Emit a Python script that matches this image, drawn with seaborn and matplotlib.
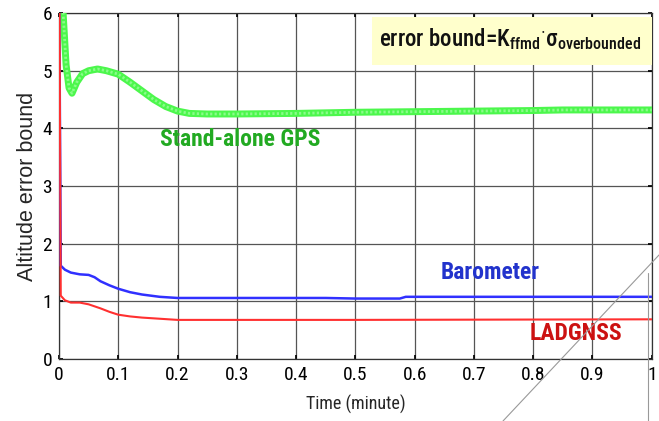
import matplotlib
matplotlib.use("Agg")
import matplotlib.pyplot as plt
import seaborn as sns
import pandas as pd
from matplotlib.lines import Line2D
from matplotlib.patches import Rectangle
from matplotlib import font_manager as fm

# ---- data ----
gps_t = [0.0, 0.007, 0.012, 0.017, 0.022, 0.03, 0.04, 0.05, 0.065, 0.08, 0.1, 0.12,
         0.14, 0.16, 0.18, 0.2, 0.22, 0.25, 0.3, 0.4, 0.45, 0.5, 0.6, 0.7, 0.8, 0.85, 1.0]
gps_v = [7.0, 6.0, 5.1, 4.7, 4.61, 4.8, 4.95, 5.0, 5.03, 5.0, 4.94, 4.8,
         4.65, 4.5, 4.38, 4.3, 4.26, 4.25, 4.25, 4.26, 4.27, 4.28, 4.29, 4.3, 4.31, 4.32, 4.32]

baro_t = [0.0, 0.003, 0.01, 0.02, 0.035, 0.05, 0.06, 0.07, 0.085, 0.1, 0.12, 0.14,
          0.17, 0.2, 0.3, 0.45, 0.5, 0.575, 0.585, 0.7, 1.0]
baro_v = [7.0, 1.62, 1.55, 1.5, 1.47, 1.46, 1.42, 1.35, 1.28, 1.22, 1.16, 1.12,
          1.08, 1.06, 1.06, 1.06, 1.05, 1.05, 1.08, 1.08, 1.08]

lad_t = [0.0, 0.003, 0.01, 0.02, 0.035, 0.05, 0.07, 0.085, 0.1, 0.12, 0.14, 0.17,
         0.2, 0.3, 0.5, 1.0]
lad_v = [8.0, 1.1, 1.02, 0.98, 0.98, 0.95, 0.88, 0.82, 0.77, 0.74, 0.72, 0.7,
         0.68, 0.68, 0.68, 0.69]

x_ticks = [0, 0.1, 0.2, 0.3, 0.4, 0.5, 0.6, 0.7, 0.8, 0.9, 1]
x_tick_labels = ["0", "0.1", "0.2", "0.3", "0.4", "0.5", "0.6", "0.7", "0.8", "0.9", "1"]
y_ticks = [0, 1, 2, 3, 4, 5, 6]

sns.set_theme(style="white")

# pick a narrow font if one is installed
names = {f.name for f in fm.fontManager.ttflist}
narrow_font = "Liberation Sans"
for n in ["Liberation Sans Narrow", "Arial Narrow", "Roboto Condensed",
          "Open Sans Condensed", "DejaVu Sans Condensed"]:
    if n in names:
        narrow_font = n
        break
is_narrow = narrow_font != "Liberation Sans"

plt.rcParams["font.family"] = [narrow_font, "Liberation Sans", "DejaVu Sans"]
plt.rcParams["mathtext.default"] = "regular"

tick_fs = 14 if is_narrow else 12.5
lab_fs = 17 if is_narrow else 14.5

fig = plt.figure(figsize=(6.59, 4.21), dpi=100)
ax = fig.add_axes([0.0895, 0.147, 0.8995, 0.822])

df_gps = pd.DataFrame({"t": gps_t, "v": gps_v})
df_baro = pd.DataFrame({"t": baro_t, "v": baro_v})
df_lad = pd.DataFrame({"t": lad_t, "v": lad_v})

sns.lineplot(data=df_gps, x="t", y="v", ax=ax, color="#4cf74c", lw=5, zorder=3)
sns.lineplot(data=df_gps, x="t", y="v", ax=ax, color="#8afc8a", lw=2.0,
             linestyle=(0, (0.8, 0.8)), zorder=3)
sns.lineplot(data=df_baro, x="t", y="v", ax=ax, color="#3030ff", lw=1.8, zorder=3)
sns.lineplot(data=df_lad, x="t", y="v", ax=ax, color="#ff3030", lw=1.5, zorder=3)

ax.set_xlim(0, 1)
ax.set_ylim(0, 6)
ax.set_xticks(x_ticks)
ax.set_xticklabels(x_tick_labels)
ax.set_yticks(y_ticks)
ax.grid(True, color="#555555", lw=0.9)
ax.tick_params(direction="in", length=3, labelsize=tick_fs, top=True, right=True,
               bottom=True, left=True, colors="black", pad=5)
for s in ax.spines.values():
    s.set_color("#333333")
    s.set_linewidth(0.9)

ax.set_xlabel("Time (minute)", fontsize=13, labelpad=8)
ax.set_ylabel("Altitude error bound", fontsize=15.5, labelpad=3,
              family=["Liberation Sans", "DejaVu Sans"])

ax.text(0.305, 3.8, "Stand-alone GPS", color="#22aa22", fontsize=lab_fs,
        fontweight="bold", ha="center", va="center", zorder=5)
ax.text(0.727, 1.51, "Barometer", color="#2233cc", fontsize=lab_fs,
        fontweight="bold", ha="center", va="center", zorder=5)
ax.text(0.872, 0.45, "LADGNSS", color="#cc1111", fontsize=lab_fs,
        fontweight="bold", ha="center", va="center", zorder=5)

# formula box (yellow panel) in axes fraction
bx0, bx1 = (372 - 59) / 593, (652 - 59) / 593
by0, by1 = (359 - 65) / 346, (359 - 17) / 346
ax.add_patch(Rectangle((bx0, by0), bx1 - bx0, by1 - by0, transform=ax.transAxes,
                       fc="#ffffcc", ec="none", zorder=5))
formula_fs = 16.5 if is_narrow else 14
ax.text((bx0 + bx1) / 2 - 0.003, (by0 + by1) / 2 + 0.005,
        r"error bound=K$_{\mathregular{ffmd}}$$^{\mathregular{\cdot}}$$\mathregular{\sigma}_{\mathregular{overbounded}}$",
        transform=ax.transAxes, fontsize=formula_fs, fontweight="medium", ha="center", va="center",
        color="#111111", zorder=6)

# screenshot artefact lines (thin grey diagonal and vertical)
fig.add_artist(Line2D([503 / 659, 1.0], [0.0, 1 - 255 / 421], color="#999999", lw=0.8))
fig.add_artist(Line2D([648 / 659, 648 / 659], [0.0, 1 - 273 / 421], color="#999999", lw=0.8))

fig.savefig("out.png", dpi=100)
